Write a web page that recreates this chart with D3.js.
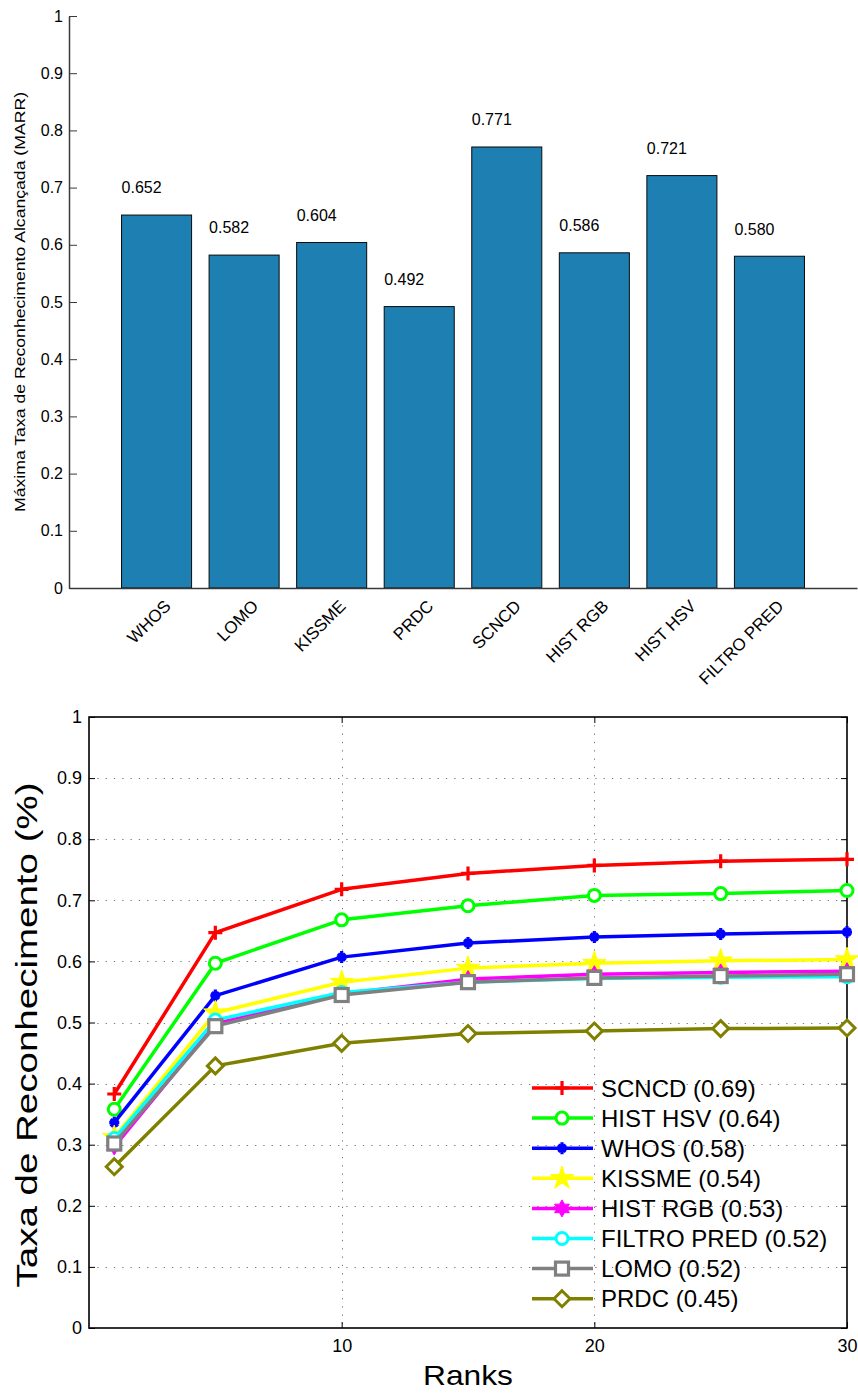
<!DOCTYPE html>
<html>
<head>
<meta charset="utf-8">
<script src="https://cdn.jsdelivr.net/npm/d3@7"></script>
<style>
  body { margin: 0; background: #fff; }
  svg { display: block; }
  text { font-family: "Liberation Sans", Arial, Helvetica, sans-serif; fill: #000; }
</style>
</head>
<body>
<svg id="chart" width="858" height="1394"></svg>
<script>
// ---- Bar chart data: maximum recognition rate per method ----
const methods = ["WHOS", "LOMO", "KISSME", "PRDC", "SCNCD", "HIST RGB", "HIST HSV", "FILTRO PRED"];
const marr = [0.652, 0.582, 0.604, 0.492, 0.771, 0.586, 0.721, 0.580];
const marrTicks = [0, 0.1, 0.2, 0.3, 0.4, 0.5, 0.6, 0.7, 0.8, 0.9, 1];

// ---- CMC curves: recognition rate by rank ----
const ranks = [1, 5, 10, 15, 20, 25, 30];
const rankTicks = [10, 20, 30];
const rateTicks = [0, 0.1, 0.2, 0.3, 0.4, 0.5, 0.6, 0.7, 0.8, 0.9, 1];
const scncd      = [0.383, 0.647, 0.718, 0.744, 0.757, 0.764, 0.767];
const histHsv    = [0.358, 0.597, 0.668, 0.691, 0.708, 0.711, 0.716];
const whos       = [0.336, 0.544, 0.607, 0.630, 0.640, 0.645, 0.648];
const kissme     = [0.312, 0.516, 0.566, 0.589, 0.597, 0.601, 0.603];
const histRgb    = [0.297, 0.498, 0.547, 0.571, 0.579, 0.582, 0.584];
const filtroPred = [0.310, 0.504, 0.549, 0.566, 0.572, 0.574, 0.575];
const lomo       = [0.302, 0.494, 0.545, 0.566, 0.573, 0.576, 0.579];
const prdc       = [0.264, 0.429, 0.466, 0.482, 0.486, 0.490, 0.491];
const legendLabels = ["SCNCD (0.69)", "HIST HSV (0.64)", "WHOS (0.58)", "KISSME (0.54)",
                      "HIST RGB (0.53)", "FILTRO PRED (0.52)", "LOMO (0.52)", "PRDC (0.45)"];

// Series styling (colour + marker shape) paired with the value arrays above
const series = [
  { label: legendLabels[0], values: scncd,      color: "#ff0000", marker: "plus" },
  { label: legendLabels[1], values: histHsv,    color: "#00ff00", marker: "circle" },
  { label: legendLabels[2], values: whos,       color: "#0000ff", marker: "asterisk" },
  { label: legendLabels[3], values: kissme,     color: "#ffff00", marker: "pentagram" },
  { label: legendLabels[4], values: histRgb,    color: "#ff00ff", marker: "hexagram" },
  { label: legendLabels[5], values: filtroPred, color: "#00ffff", marker: "circle" },
  { label: legendLabels[6], values: lomo,       color: "#808080", marker: "square" },
  { label: legendLabels[7], values: prdc,       color: "#808000", marker: "diamond" }
];

const svg = d3.select("#chart");
const fmt3 = d3.format(".3f");
const fmtTick = d3.format("~g");

// ================= Top: bar chart =================
const tb = { left: 69, right: 857, top: 16, bottom: 588 };
const xb = d3.scaleBand().domain(methods).range([tb.left, tb.right])
  .paddingInner(0.2).paddingOuter(0.6);
const yb = d3.scaleLinear().domain([0, 1]).range([tb.bottom, tb.top]);

const barG = svg.append("g");

barG.selectAll("rect.bar").data(methods).join("rect")
  .attr("class", "bar")
  .attr("x", d => xb(d))
  .attr("width", xb.bandwidth())
  .attr("y", (d, i) => yb(marr[i]))
  .attr("height", (d, i) => yb(0) - yb(marr[i]))
  .attr("fill", "#1e7fb2")
  .attr("stroke", "#0a0a0a")
  .attr("stroke-width", 1);

barG.selectAll("text.val").data(methods).join("text")
  .attr("class", "val")
  .attr("x", d => xb(d))
  .attr("y", (d, i) => yb(marr[i] + 0.038))
  .attr("font-size", 16)
  .text((d, i) => fmt3(marr[i]));

// y axis with inward ticks
const yAxisTop = barG.append("g")
  .attr("transform", `translate(${tb.left},0)`)
  .call(d3.axisLeft(yb).tickValues(marrTicks).tickFormat(fmtTick)
    .tickSizeInner(-8).tickSizeOuter(0).tickPadding(6));
yAxisTop.select(".domain").attr("stroke", "#3a3a3a").attr("stroke-width", 1.5);
yAxisTop.selectAll(".tick line").attr("stroke", "#3a3a3a").attr("stroke-width", 1);
yAxisTop.selectAll(".tick text").attr("font-size", 16).attr("font-family", null);

// x axis with rotated category labels
const xAxisTop = barG.append("g")
  .attr("transform", `translate(0,${tb.bottom})`)
  .call(d3.axisBottom(xb).tickSize(0).tickPadding(0));
xAxisTop.select(".domain").attr("stroke", "#3a3a3a").attr("stroke-width", 1.5);
xAxisTop.selectAll(".tick text")
  .attr("font-size", 17).attr("font-family", null)
  .attr("text-anchor", "end")
  .attr("y", 0).attr("dy", "0.35em")
  .attr("transform", "translate(11,15) rotate(-45)");

barG.append("text")
  .attr("transform", `translate(25,302) rotate(-90)`)
  .attr("text-anchor", "middle")
  .attr("font-size", 14)
  .attr("textLength", 420).attr("lengthAdjust", "spacingAndGlyphs")
  .text("Máxima Taxa de Reconhecimento Alcançada (MARR)");

// ================= Bottom: CMC line chart =================
const lb = { left: 89, right: 847, top: 717, bottom: 1328 };
const x = d3.scaleLinear().domain([0, 30]).range([lb.left, lb.right]);
const y = d3.scaleLinear().domain([0, 1]).range([lb.bottom, lb.top]);

const cmcG = svg.append("g");

// dotted grid
const grid = cmcG.append("g").attr("stroke", "#7a7a7a").attr("stroke-width", 1)
  .attr("stroke-dasharray", "1.3,7");
grid.selectAll("line.h").data(rateTicks.filter(d => d > 0 && d < 1)).join("line")
  .attr("class", "h")
  .attr("x1", lb.left).attr("x2", lb.right)
  .attr("y1", d => Math.round(y(d)) + 0.5).attr("y2", d => Math.round(y(d)) + 0.5);
grid.selectAll("line.v").data(rankTicks.filter(d => d < 30)).join("line")
  .attr("class", "v")
  .attr("y1", lb.top).attr("y2", lb.bottom)
  .attr("x1", d => Math.round(x(d)) + 0.5).attr("x2", d => Math.round(x(d)) + 0.5);

// axes
const yAxisBot = cmcG.append("g")
  .attr("transform", `translate(${lb.left},0)`)
  .call(d3.axisLeft(y).tickValues(rateTicks).tickFormat(fmtTick)
    .tickSizeInner(-6).tickSizeOuter(0).tickPadding(7));
yAxisBot.select(".domain").remove();
yAxisBot.selectAll(".tick text").attr("font-size", 18).attr("font-family", null);

const yAxisBotR = cmcG.append("g")
  .attr("transform", `translate(${lb.right},0)`)
  .call(d3.axisRight(y).tickValues(rateTicks).tickFormat("").tickSizeInner(-6).tickSizeOuter(0));
yAxisBotR.select(".domain").remove();

const xAxisBot = cmcG.append("g")
  .attr("transform", `translate(0,${lb.bottom})`)
  .call(d3.axisBottom(x).tickValues(rankTicks).tickFormat(fmtTick)
    .tickSizeInner(-6).tickSizeOuter(0).tickPadding(11));
xAxisBot.select(".domain").remove();
xAxisBot.selectAll(".tick text").attr("font-size", 18).attr("font-family", null);

const xAxisBotT = cmcG.append("g")
  .attr("transform", `translate(0,${lb.top})`)
  .call(d3.axisTop(x).tickValues(rankTicks).tickFormat("").tickSizeInner(-6).tickSizeOuter(0));
xAxisBotT.select(".domain").remove();

cmcG.append("rect")
  .attr("x", lb.left).attr("y", lb.top)
  .attr("width", lb.right - lb.left).attr("height", lb.bottom - lb.top)
  .attr("fill", "none").attr("stroke", "#000").attr("stroke-width", 1.6);

// marker shapes
function hexagramPath(r) {
  const pts = [];
  for (let k = 0; k < 12; k++) {
    const a = -Math.PI / 2 + k * Math.PI / 6;
    const rr = k % 2 === 0 ? r : r / Math.sqrt(3);
    pts.push([rr * Math.cos(a), rr * Math.sin(a)]);
  }
  return "M" + pts.map(p => p.join(",")).join("L") + "Z";
}
function drawMarker(g, type, color) {
  switch (type) {
    case "plus":
      g.append("path").attr("d", "M-7,0H7M0,-7V7")
        .attr("stroke", color).attr("stroke-width", 3.2).attr("fill", "none");
      break;
    case "asterisk":
      g.append("path").attr("d", "M-5,0H5M0,-6V6M-3.6,-3.6L3.6,3.6M-3.6,3.6L3.6,-3.6")
        .attr("stroke", color).attr("stroke-width", 3.2).attr("fill", "none");
      break;
    case "circle":
      g.append("circle").attr("r", 6)
        .attr("stroke", color).attr("stroke-width", 3).attr("fill", "#fff");
      break;
    case "pentagram":
      g.append("path").attr("d", d3.symbol(d3.symbolStar, 170)())
        .attr("fill", color).attr("stroke", color).attr("stroke-width", 1);
      break;
    case "hexagram":
      g.append("path").attr("d", hexagramPath(8.5))
        .attr("fill", color).attr("stroke", color).attr("stroke-width", 1);
      break;
    case "square":
      g.append("rect").attr("x", -6.5).attr("y", -6.5).attr("width", 13).attr("height", 13)
        .attr("stroke", color).attr("stroke-width", 3.2).attr("fill", "#fff");
      break;
    case "diamond":
      g.append("path").attr("d", "M0,-8L8,0L0,8L-8,0Z")
        .attr("stroke", color).attr("stroke-width", 3).attr("fill", "#fff");
      break;
  }
}

const line = d3.line().x((d, i) => x(ranks[i])).y(d => y(d));
const plot = cmcG.append("g");
series.forEach(s => {
  const g = plot.append("g");
  g.append("path").attr("d", line(s.values))
    .attr("fill", "none").attr("stroke", s.color).attr("stroke-width", 3.5)
    .attr("stroke-linejoin", "round");
  s.values.forEach((v, i) => {
    drawMarker(g.append("g").attr("transform", `translate(${x(ranks[i])},${y(v)})`), s.marker, s.color);
  });
});

// legend (no frame, transparent)
const legend = cmcG.append("g").attr("transform", "translate(532,1088)");
series.forEach((s, i) => {
  const row = legend.append("g").attr("transform", `translate(0,${i * 30.1})`);
  row.append("line").attr("x1", 0).attr("x2", 61).attr("y1", 0).attr("y2", 0)
    .attr("stroke", s.color).attr("stroke-width", 3.5);
  drawMarker(row.append("g").attr("transform", "translate(30,0)"), s.marker, s.color);
  row.append("text").attr("x", 69).attr("y", 0).attr("dy", "0.36em")
    .attr("font-size", 24).text(s.label);
});

// axis titles
cmcG.append("text")
  .attr("transform", `translate(37,1035) rotate(-90)`)
  .attr("text-anchor", "middle")
  .attr("font-size", 30)
  .attr("textLength", 505).attr("lengthAdjust", "spacingAndGlyphs")
  .text("Taxa de Reconhecimento (%)");

cmcG.append("text")
  .attr("x", (lb.left + lb.right) / 2).attr("y", 1385)
  .attr("text-anchor", "middle")
  .attr("font-size", 28)
  .attr("textLength", 90).attr("lengthAdjust", "spacingAndGlyphs")
  .text("Ranks");
</script>
</body>
</html>
